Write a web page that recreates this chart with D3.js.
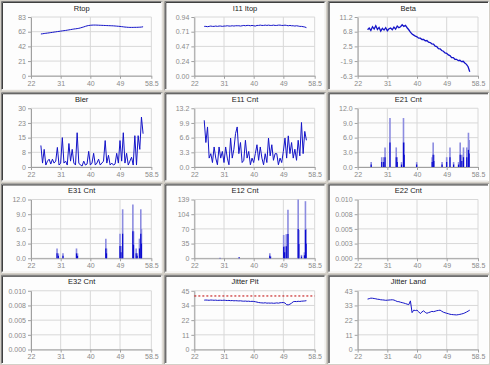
<!DOCTYPE html>
<html>
<head>
<meta charset="utf-8">
<script src="https://cdn.jsdelivr.net/npm/d3@7"></script>
<style>
  body { margin: 0; background: #d4d0c8; }
  svg { display: block; }
  text { font-family: "Liberation Sans", Arial, sans-serif; }
</style>
</head>
<body>
<div id="Data"></div>
<script>
// sample times shared by the line series
const t = [
  25, 25.5, 26, 26.5, 27, 27.5, 28, 28.5, 29, 29.5,
  30, 30.5, 31, 31.5, 32, 32.5, 33, 33.5, 34, 34.5,
  35, 35.5, 36, 36.5, 37, 37.5, 38, 38.5, 39, 39.5,
  40, 40.5, 41, 41.5, 42, 42.5, 43, 43.5, 44, 44.5,
  45, 45.5, 46, 46.5, 47, 47.5, 48, 48.5, 49, 49.5,
  50, 50.5, 51, 51.5, 52, 52.5, 53, 53.5, 54, 54.5,
  55, 55.5, 56];

const xTicks = [22, 31, 40, 49, 58.5];

const rtop = [
  59, 59.3, 59.7, 60, 60.3, 60.6, 61, 61.3, 61.7, 62,
  62.4, 62.7, 63, 63.4, 63.7, 64, 64.4, 64.8, 65.2, 65.6,
  66, 66.3, 66.6, 67, 67.6, 68.3, 69, 69.8, 70.5, 71,
  71.3, 71.5, 71.6, 71.6, 71.5, 71.4, 71.3, 71.2, 71.1, 71,
  70.9, 70.8, 70.7, 70.6, 70.5, 70.3, 70.1, 69.9, 69.7, 69.4,
  69.1, 68.8, 68.6, 68.4, 68.3, 68.3, 68.3, 68.4, 68.4, 68.5,
  68.6, 68.8, 69.2];

const i11 = [
  0.79, 0.79, 0.785, 0.79, 0.795, 0.79, 0.79, 0.795, 0.79, 0.795,
  0.795, 0.79, 0.795, 0.795, 0.8, 0.795, 0.795, 0.8, 0.795, 0.8,
  0.8, 0.8, 0.795, 0.8, 0.805, 0.8, 0.805, 0.805, 0.8, 0.805,
  0.8, 0.795, 0.805, 0.805, 0.81, 0.805, 0.805, 0.81, 0.805, 0.81,
  0.805, 0.805, 0.81, 0.805, 0.805, 0.81, 0.81, 0.805, 0.805, 0.81,
  0.805, 0.8, 0.805, 0.8, 0.8, 0.795, 0.8, 0.795, 0.79, 0.79,
  0.785, 0.78, 0.77];

const beta = [
  7.4, 7.9, 7.2, 8.3, 7.6, 8.6, 7.5, 8.1, 7.0, 7.8,
  7.3, 8.0, 7.1, 7.7, 7.9, 7.4, 8.2, 7.6, 8.5, 8.0,
  8.3, 8.9, 8.4, 8.7, 8.0, 7.4, 6.7, 6.1, 5.8, 5.5,
  5.3, 4.9, 4.9, 4.5, 4.5, 4.1, 4.2, 3.7, 3.6, 3.2,
  3.1, 2.5, 2.4, 1.8, 1.7, 1.2, 1.0, 0.5, 0.4, -0.1,
  -0.3, -0.9, -0.9, -1.4, -1.4, -1.8, -1.7, -2.1, -2.0, -2.5,
  -2.9, -3.6, -5.1];

const bler = [
  11, 2, 9, 1, 3, 4, 1.5, 4, 2, 3,
  10, 1, 2, 15, 2, 3, 1, 12, 3, 9,
  2, 1, 17.5, 2, 1, 0.5, 3, 1, 1.5, 8,
  1, 2, 7, 1, 2, 4, 1, 2, 3, 13.5,
  2, 6, 1, 2, 1, 1.5, 7, 2, 13.5, 3,
  17.5, 2, 7, 1, 3, 5, 1, 16, 1, 16,
  9, 25.5, 17];

const e11 = [
  10.5, 5.5, 9, 2, 3, 1, 4.5, 2, 0.5, 4.5,
  2, 3.5, 1, 4.5, 2, 0.5, 6.5, 2, 4, 7.5,
  9, 3, 5.5, 1, 1.5, 6, 2, 3.5, 0.5, 2,
  1, 3, 5, 1.5, 4.5, 2, 0.5, 3, 1, 6.5,
  2.5, 5, 1.5, 3, 3, 0.5, 2, 1, 3.5, 6.5,
  2, 7, 3, 5.5, 2, 4, 1.5, 6, 2.5, 10,
  3, 8, 6];

// error counts drawn as spikes
const e21X = [26.1, 29.3, 29.9, 30.3, 31.8, 33.7, 34.0, 35.3, 35.9, 36.1, 39.9, 44.6, 44.9,
              45.1, 47.6, 49.0, 50.0, 51.1, 52.6, 53.1, 53.6, 54.1, 55.1, 55.6, 55.8];
const e21Y = [1, 2, 2, 4, 10, 4, 2, 1, 10, 5, 1, 2, 5, 2.5, 1, 2, 4, 1, 1, 5, 2.5, 4, 4, 7, 5.5];

const e31X = [29.9, 30.3, 31.7, 35.8, 36.1, 44.7, 44.9, 49.0, 49.3, 49.8, 52.9, 53.1, 53.9, 54.2, 54.9, 55.3, 55.5];
const e31Y = [2, 1, 1, 2, 1, 4, 2, 5, 2.5, 10, 11, 5.5, 2, 1, 4, 10, 6];

const e12X = [29.8, 35.6, 44.9, 45.1, 49.1, 49.4, 49.9, 50.4, 53.5, 53.7, 54.5, 55.4, 55.7, 55.9];
const e12Y = [1, 3, 12, 5, 55, 28, 57, 115, 139, 67, 8, 14, 135, 70];

const jitterPit = [
  37.8, 37.9, 37.8, 37.7, 37.9, 37.8, 37.7, 37.8, 37.6, 37.7,
  37.7, 37.6, 37.8, 37.6, 37.5, 37.6, 37.4, 37.5, 37.3, 37.4,
  37.3, 37.2, 37.3, 37.1, 37.0, 37.1, 36.9, 37.0, 36.8, 36.9,
  36.8, 36.6, 36.3, 36.0, 35.8, 35.7, 35.6, 35.8, 35.5, 35.6,
  35.5, 35.6, 35.4, 35.5, 35.7, 35.5, 35.8, 35.9, 36.0, 35.6,
  34.3, 34.2, 34.7, 35.5, 36.6, 36.8, 36.7, 36.9, 36.8, 37.0,
  37.1, 37.2, 37.4];
const pitLimit = 41;

const jitterLand = [
  36.9, 37.2, 37.6, 37.5, 37.3, 37.1, 36.8, 36.7, 36.4, 36.3,
  36.2, 36.0, 36.1, 36.2, 36.3, 36.4, 36.2, 35.7, 35.1, 35.0,
  34.6, 34.3, 34.0, 33.6, 33.2, 32.8, 35.6, 27.0, 28.8, 28.5,
  28.8, 27.6, 26.3, 27.5, 28.3, 27.2, 26.5, 27.0, 27.4, 27.9,
  27.7, 28.0, 28.4, 28.6, 28.8, 28.0, 27.3, 26.9, 26.5, 26.2,
  25.8, 25.6, 25.5, 25.4, 25.3, 25.5, 25.7, 26.0, 26.3, 26.8,
  27.4, 28.1, 28.8];

// y axis tick labels of each panel
const rtopTicks = ["0", "21", "42", "62", "83"];
const i11Ticks = ["0.00", "0.24", "0.47", "0.71", "0.94"];
const betaTicks = ["-6.3", "-1.9", "2.5", "6.8", "11.2"];
const blerTicks = ["0", "8", "15", "23", "30"];
const e11Ticks = ["0.0", "3.3", "6.6", "9.9", "13.2"];
const e21Ticks = ["0.0", "3.0", "6.0", "9.0", "12.0"];
const e31Ticks = ["0.0", "3.0", "6.0", "9.0", "12.0"];
const e12Ticks = ["0", "35", "70", "104", "139"];
const e22Ticks = ["0.000", "0.003", "0.005", "0.008", "0.010"];
const e32Ticks = ["0.000", "0.003", "0.005", "0.008", "0.010"];
const pitTicks = ["0", "11", "22", "34", "45"];
const landTicks = ["0", "11", "22", "33", "43"];

const panels = [
  {title: "Rtop", range: [0, 83], ticks: rtopTicks, line: rtop},
  {title: "I11 Itop", range: [0, 0.94], ticks: i11Ticks, line: i11},
  {title: "Beta", range: [-6.3, 11.2], ticks: betaTicks, line: beta, width: 1.3},
  {title: "Bler", range: [0, 30], ticks: blerTicks, line: bler},
  {title: "E11 Cnt", range: [0, 13.2], ticks: e11Ticks, line: e11},
  {title: "E21 Cnt", range: [0, 12], ticks: e21Ticks, spikesX: e21X, spikesY: e21Y},
  {title: "E31 Cnt", range: [0, 12], ticks: e31Ticks, spikesX: e31X, spikesY: e31Y},
  {title: "E12 Cnt", range: [0, 139], ticks: e12Ticks, spikesX: e12X, spikesY: e12Y},
  {title: "E22 Cnt", range: [0, 0.01], ticks: e22Ticks},
  {title: "E32 Cnt", range: [0, 0.01], ticks: e32Ticks},
  {title: "Jitter Pit", range: [0, 45], ticks: pitTicks, line: jitterPit, limit: pitLimit},
  {title: "Jitter Land", range: [0, 43], ticks: landTicks, line: jitterLand}
];

const W = 490, H = 365, cols = 3, rows = 4;
const cw = W / cols, ch = H / rows;

const svg = d3.select("#Data").append("svg")
    .attr("width", W)
    .attr("height", H);

svg.append("rect").attr("width", W).attr("height", H).attr("fill", "#d4d0c8");

panels.forEach(function(p, i) {
  const col = i % cols, row = Math.floor(i / cols);
  const g = svg.append("g")
      .attr("transform", "translate(" + (col * cw) + "," + (row * ch) + ")");

  // sunken panel
  g.append("rect")
      .attr("x", 2).attr("y", 2)
      .attr("width", cw - 4).attr("height", ch - 4)
      .attr("fill", "#fdfdfd");
  g.append("path")
      .attr("d", "M1.5," + (ch - 1) + "V1.5H" + (cw - 1))
      .attr("fill", "none").attr("stroke", "#808080");
  g.append("path")
      .attr("d", "M2.5," + (ch - 2) + "V2.5H" + (cw - 2))
      .attr("fill", "none").attr("stroke", "#404040");
  g.append("path")
      .attr("d", "M" + (cw - 1.5) + ",1.5V" + (ch - 1.5) + "H1.5")
      .attr("fill", "none").attr("stroke", "#ffffff");

  g.append("text")
      .attr("x", cw / 2).attr("y", 10.5)
      .attr("text-anchor", "middle")
      .attr("font-size", "7.5px")
      .attr("fill", "#202020")
      .text(p.title);

  const x = d3.scaleLinear().domain([22, 58.5]).range([31, cw - 12]);
  const y = d3.scaleLinear().domain(p.range).range([ch - 15.5, 17]);
  const yVals = p.ticks.map(function(d, k) { return p.range[0] + k * (p.range[1] - p.range[0]) / 4; });

  // grid
  g.selectAll(".hg").data(yVals).enter().append("line")
      .attr("x1", x(22)).attr("x2", x(58.5))
      .attr("y1", function(d) { return y(d); }).attr("y2", function(d) { return y(d); })
      .attr("stroke", "#d8d8d8");
  g.selectAll(".vg").data(xTicks).enter().append("line")
      .attr("x1", function(d) { return x(d); }).attr("x2", function(d) { return x(d); })
      .attr("y1", y.range()[1]).attr("y2", y.range()[0])
      .attr("stroke", "#d8d8d8");

  const ya = g.append("g")
      .attr("transform", "translate(" + x(22) + ",0)")
      .call(d3.axisLeft(y).tickValues(yVals)
        .tickFormat(function(d, k) { return p.ticks[k]; })
        .tickSize(3).tickSizeOuter(0).tickPadding(2));
  const xa = g.append("g")
      .attr("transform", "translate(0," + y(p.range[0]) + ")")
      .call(d3.axisBottom(x).tickValues(xTicks)
        .tickFormat(function(d) { return d; })
        .tickSize(3).tickSizeOuter(0).tickPadding(2));
  [ya, xa].forEach(function(a) {
    a.select(".domain").attr("stroke", "#a0a0a0");
    a.selectAll(".tick line").attr("stroke", "#a0a0a0");
    a.selectAll("text")
        .attr("fill", "#8a8a8a")
        .attr("font-size", "7px")
        .attr("font-family", "'Liberation Sans', Arial, sans-serif");
  });

  if (p.limit !== undefined) {
    g.append("line")
        .attr("x1", x(22)).attr("x2", x(58.5))
        .attr("y1", y(p.limit)).attr("y2", y(p.limit))
        .attr("stroke", "#c00000")
        .attr("stroke-dasharray", "2,2");
  }

  if (p.line) {
    g.append("path")
        .datum(p.line)
        .attr("fill", "none")
        .attr("stroke", "#1414c8")
        .attr("stroke-width", p.width || 1)
        .attr("d", d3.line()
          .x(function(d, k) { return x(t[k]); })
          .y(function(d) { return y(d); }));
  }

  if (p.spikesX) {
    const pts = p.spikesX.map(function(v, k) { return [v, p.spikesY[k]]; });
    g.selectAll(".sp").data(pts).enter().append("line")
        .attr("x1", function(d) { return x(d[0]); }).attr("x2", function(d) { return x(d[0]); })
        .attr("y1", y(0)).attr("y2", function(d) { return y(d[1]); })
        .attr("stroke", "#8c8ce0")
        .attr("stroke-width", 1.6);
    g.selectAll(".sp2").data(pts).enter().append("line")
        .attr("x1", function(d) { return x(d[0]); }).attr("x2", function(d) { return x(d[0]); })
        .attr("y1", y(0)).attr("y2", function(d) { return y(d[1] / 2); })
        .attr("stroke", "#0a0ad0")
        .attr("stroke-width", 1.2);
  }
});
</script>
</body>
</html>
